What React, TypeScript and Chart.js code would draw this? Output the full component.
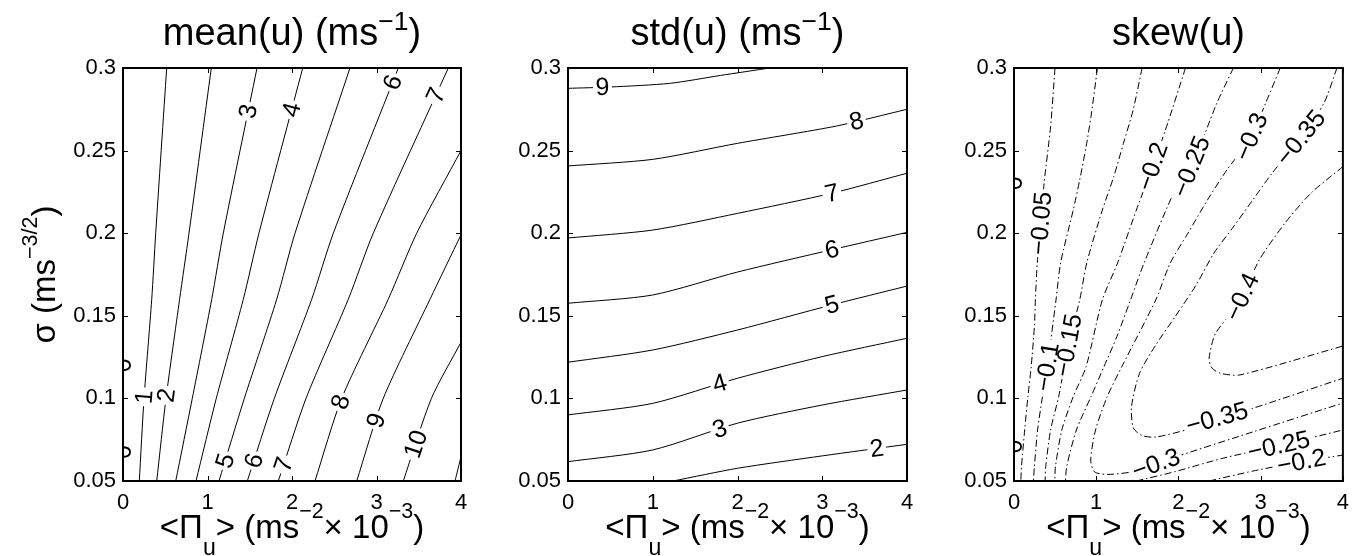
import React, { useEffect, useRef } from 'react';
import { Chart, registerables } from 'chart.js';

Chart.register(...registerables);

const W = 1358;
const H = 556;
const FONT = "'Liberation Sans', Arial, Helvetica, sans-serif";
const TICK_SIZE = 22;
const LABEL_SIZE = 25;

type Pt = [number, number];
type Lab = [number, number, number];

// ---------- axes ----------
const xTicks = [0, 1, 2, 3, 4];
const yTicks = [0.05, 0.1, 0.15, 0.2, 0.25, 0.3];

// ---------- mean(u) contours: [x, y] points ----------
const mean0: Pt[] = [[0, 0.05], [0, 0.3]];
const mean1: Pt[] = [[0.193, 0.05], [0.249, 0.1], [0.34, 0.16], [0.387, 0.2], [0.517, 0.3]];
const mean2: Pt[] = [[0.399, 0.05], [0.509, 0.1], [0.67, 0.16], [0.781, 0.2], [1.045, 0.3]];
const mean3: Pt[] = [[0.624, 0.05], [0.82, 0.1], [1.05, 0.16], [1.187, 0.2], [1.586, 0.3]];
const mean4: Pt[] = [[0.864, 0.05], [1.104, 0.1], [1.424, 0.16], [1.609, 0.2], [2.127, 0.3]];
const mean5: Pt[] = [[1.136, 0.05], [1.436, 0.1], [1.819, 0.16], [2.036, 0.2], [2.686, 0.3]];
const mean6: Pt[] = [[1.471, 0.05], [1.791, 0.1], [2.233, 0.16], [2.489, 0.2], [3.258, 0.3]];
const mean7: Pt[] = [[1.838, 0.05], [2.166, 0.1], [2.666, 0.16], [2.962, 0.2], [3.85, 0.3]];
const mean8: Pt[] = [[2.272, 0.05], [2.588, 0.1], [3.139, 0.16], [3.476, 0.2], [4, 0.25]];
const mean9: Pt[] = [[2.766, 0.05], [3.08, 0.1], [3.633, 0.16], [4, 0.199]];
const mean10: Pt[] = [[3.317, 0.05], [3.65, 0.1], [4, 0.134]];
const mean11: Pt[] = [[3.929, 0.05], [4, 0.0647]];
const meanLevels = [0, 1, 2, 3, 4, 5, 6, 7, 8, 9, 10, 11];
const meanLines = [mean0, mean1, mean2, mean3, mean4, mean5, mean6, mean7, mean8, mean9, mean10, mean11];
// [level, x, y]
const meanLabels: Lab[] = [
  [0, 0, 0.1201], [0, 0, 0.0675], [1, 0.281, 0.1008], [2, 0.537, 0.1017],
  [3, 1.503, 0.2735], [4, 2.015, 0.2745], [5, 1.246, 0.0617], [6, 1.562, 0.0621],
  [6, 3.219, 0.2908], [7, 3.692, 0.2837], [7, 1.858, 0.0607], [8, 2.588, 0.0977],
  [9, 3.0, 0.0866], [10, 3.456, 0.0725],
];

// ---------- std(u) contours ----------
const std2: Pt[] = [[1.24, 0.05], [2, 0.0577], [3, 0.0652], [4, 0.0722]];
const std3: Pt[] = [[0, 0.0617], [1, 0.0688], [2, 0.085], [3, 0.096], [4, 0.1051]];
const std4: Pt[] = [[0, 0.09], [1, 0.097], [2, 0.1122], [3, 0.1253], [4, 0.1364]];
const std5: Pt[] = [[0, 0.1219], [1, 0.1293], [2, 0.1414], [3.113, 0.1566], [4, 0.168]];
const std6: Pt[] = [[0, 0.1576], [1, 0.1626], [2, 0.1765], [3.113, 0.19], [4, 0.2005]];
const std7: Pt[] = [[0, 0.1971], [1, 0.2019], [2, 0.212], [3.113, 0.2242], [4, 0.2363]];
const std8: Pt[] = [[0, 0.2407], [1, 0.2447], [2, 0.2544], [3.17, 0.2649], [4, 0.275]];
const std9: Pt[] = [[0, 0.2877], [0.5, 0.2885], [1.2, 0.2907], [1.8, 0.2955], [2.38, 0.3]];
const stdLevels = [2, 3, 4, 5, 6, 7, 8, 9];
const stdLines = [std2, std3, std4, std5, std6, std7, std8, std9];
const stdLabels: Lab[] = [
  [9, 0.407, 0.2877], [8, 3.409, 0.2665], [7, 3.113, 0.2242], [6, 3.113, 0.19],
  [5, 3.113, 0.1566], [4, 1.793, 0.1082], [3, 1.793, 0.081], [2, 3.645, 0.0689],
];

// ---------- skew(u) contours ----------
const skew0: Pt[] = [[0, 0.05], [0, 0.3]];
const skewA: Pt[] = [[0.499, 0.3], [0.445, 0.2645], [0.366, 0.2302], [0.327, 0.206], [0.283, 0.182], [0.26, 0.1596], [0.248, 0.1434], [0.209, 0.1192], [0.169, 0.101], [0.13, 0.0809], [0.091, 0.0587], [0.083, 0.05]];
const skewB: Pt[] = [[1.015, 0.3], [0.936, 0.2705], [0.877, 0.2524], [0.799, 0.2322], [0.72, 0.214], [0.567, 0.182], [0.511, 0.1596], [0.405, 0.1192], [0.346, 0.101], [0.287, 0.0809], [0.248, 0.0587], [0.236, 0.05]];
const skewC: Pt[] = [[1.558, 0.3], [1.449, 0.2746], [1.331, 0.2544], [1.213, 0.2342], [1.074, 0.214], [0.885, 0.182], [0.799, 0.1596], [0.661, 0.1323], [0.543, 0.101], [0.445, 0.0809], [0.386, 0.0587], [0.378, 0.05]];
const skewD: Pt[] = [[2.086, 0.3], [1.842, 0.2625], [1.685, 0.2403], [1.488, 0.214], [1.26, 0.182], [1.074, 0.1596], [0.877, 0.1192], [0.72, 0.101], [0.582, 0.0809], [0.504, 0.0587], [0.496, 0.05]];
const skewD2: Pt[] = [[2.373, 0.05], [2.904, 0.056], [3.495, 0.0617], [4, 0.0657]];
const skewE: Pt[] = [[2.668, 0.3], [2.468, 0.2788], [2.157, 0.2403], [1.96, 0.2262], [1.582, 0.182], [1.417, 0.1596], [1.251, 0.1374], [1.094, 0.1192], [0.936, 0.101], [0.759, 0.0809], [0.641, 0.0587], [0.626, 0.05]];
const skewE2: Pt[] = [[1.488, 0.05], [1.96, 0.0557], [2.55, 0.0639], [3.259, 0.0718], [4, 0.0809]];
const skewF: Pt[] = [[3.238, 0.3], [3.061, 0.2788], [2.884, 0.2582], [2.589, 0.2383], [2.353, 0.2201], [2.117, 0.2001], [1.901, 0.182], [1.724, 0.1596], [1.311, 0.1192], [1.133, 0.101], [0.992, 0.0809], [0.933, 0.0627], [0.98, 0.0555], [1.133, 0.054], [1.429, 0.0555], [1.724, 0.0603], [1.96, 0.0645], [2.904, 0.0797], [4, 0.0972]];
const skewG: Pt[] = [[3.928, 0.3], [3.77, 0.2788], [3.495, 0.2582], [3.14, 0.2364], [2.904, 0.2201], [2.668, 0.2038], [2.432, 0.188], [2.216, 0.1687], [1.96, 0.1495], [1.724, 0.1323], [1.527, 0.1152], [1.429, 0.095], [1.452, 0.0821], [1.558, 0.0775], [1.724, 0.0766], [2.117, 0.0813], [2.468, 0.088], [2.904, 0.094], [4, 0.1122]];
const skewH: Pt[] = [[4, 0.2403], [3.613, 0.2243], [3.297, 0.2062], [2.983, 0.1838], [2.747, 0.1585], [2.452, 0.1394], [2.373, 0.1243], [2.408, 0.1184], [2.511, 0.1152], [2.747, 0.1142], [4, 0.1317]];
const skewLevels = [0, -0.05, -0.1, -0.15, -0.2, -0.2, -0.25, -0.25, -0.3, -0.35, -0.4];
const skewLines = [skew0, skewA, skewB, skewC, skewD, skewD2, skewE, skewE2, skewF, skewG, skewH];
const skewLabels: Lab[] = [
  [0, 0, 0.2302], [0, 0, 0.0709], [-0.05, 0.327, 0.206], [-0.1, 0.386, 0.1192],
  [-0.15, 0.641, 0.1323], [-0.2, 1.685, 0.2403], [-0.25, 2.157, 0.2403], [-0.3, 2.884, 0.2584],
  [-0.35, 3.495, 0.2574], [-0.4, 2.747, 0.162], [-0.35, 2.471, 0.088], [-0.3, 1.724, 0.0607],
  [-0.25, 3.223, 0.0709], [-0.2, 3.495, 0.0617],
];

// ---------- text ----------
type Part = { t: string; s?: number; dy?: number };
const meanTitle: Part[] = [{ t: 'mean(u) (ms' }, { t: '\u22121', s: 0.7, dy: 0.4 }, { t: ')' }];
const stdTitle: Part[] = [{ t: 'std(u) (ms' }, { t: '\u22121', s: 0.7, dy: 0.4 }, { t: ')' }];
const skewTitle: Part[] = [{ t: 'skew(u)' }];
const xLabel: Part[] = [
  { t: '<\u03A0' }, { t: 'u', s: 0.7, dy: -0.5 }, { t: '> (ms' }, { t: '\u22122', s: 0.65, dy: 0.62 },
  { t: '\u00D7 10' }, { t: '\u22123', s: 0.65, dy: 0.62 }, { t: ')' },
];
const yLabel: Part[] = [{ t: '\u03C3 (ms' }, { t: '\u22123/2', s: 0.65, dy: 0.55 }, { t: ')' }];

const panels = [
  { key: 'mean', left: 123, right: 461, levels: meanLevels, lines: meanLines, labels: meanLabels, dash: [] as number[], title: meanTitle, ylab: true },
  { key: 'std', left: 568, right: 907, levels: stdLevels, lines: stdLines, labels: stdLabels, dash: [] as number[], title: stdTitle, ylab: false },
  { key: 'skew', left: 1014, right: 1353, levels: skewLevels, lines: skewLines, labels: skewLabels, dash: [7, 3, 1.5, 3], title: skewTitle, ylab: false },
];
const TOP = 68;
const BOTTOM = 481;
const YW = 60;
const XH = 40;

function fmtLevel(v: number): string {
  if (v < 0) return '\u2212' + String(Math.abs(v));
  return String(v);
}

function drawRich(ctx: CanvasRenderingContext2D, parts: Part[], x: number, y: number, size: number) {
  const widths = parts.map((p) => {
    ctx.font = `${size * (p.s ?? 1)}px ${FONT}`;
    return ctx.measureText(p.t).width;
  });
  const total = widths.reduce((a, b) => a + b, 0);
  let cx = x - total / 2;
  ctx.textAlign = 'left';
  ctx.textBaseline = 'alphabetic';
  parts.forEach((p, i) => {
    ctx.font = `${size * (p.s ?? 1)}px ${FONT}`;
    ctx.fillText(p.t, cx, y - (p.dy ?? 0) * size);
    cx += widths[i];
  });
}

function placeLabels(chart: any, labels: Lab[]) {
  const xs = chart.scales.x;
  const ys = chart.scales.y;
  const ctx: CanvasRenderingContext2D = chart.ctx;
  ctx.font = `${LABEL_SIZE}px ${FONT}`;
  const out: any[] = [];
  labels.forEach(([lvl, lx, ly]) => {
    const px = xs.getPixelForValue(lx);
    const py = ys.getPixelForValue(ly);
    let best: any = null;
    chart.data.datasets.forEach((ds: any, di: number) => {
      if (ds.level !== lvl) return;
      const pts = ds.data.map((p: any) => [xs.getPixelForValue(p.x), ys.getPixelForValue(p.y)]);
      for (let i = 0; i < pts.length - 1; i++) {
        const [ax, ay] = pts[i];
        const [bx, by] = pts[i + 1];
        const dx = bx - ax;
        const dy = by - ay;
        const L2 = dx * dx + dy * dy || 1;
        let t = ((px - ax) * dx + (py - ay) * dy) / L2;
        t = Math.max(0, Math.min(1, t));
        const qx = ax + t * dx;
        const qy = ay + t * dy;
        const d = Math.hypot(px - qx, py - qy);
        if (!best || d < best.d) best = { d, di, qx, qy, ang: Math.atan2(dy, dx) };
      }
    });
    if (!best) return;
    let a = best.ang;
    if (a >= Math.PI / 2 - 1e-6) a -= Math.PI;
    if (a < -Math.PI / 2 - 1e-6) a += Math.PI;
    const text = fmtLevel(lvl);
    const w = ctx.measureText(text).width + 5;
    out.push({ di: best.di, x: best.qx, y: best.qy, a, text, w, h: 19 });
  });
  return out;
}

function makePlugin(panel: any) {
  return {
    id: 'contourDeco_' + panel.key,
    beforeDatasetsDraw(chart: any) {
      chart.$labs = placeLabels(chart, panel.labels);
    },
    beforeDatasetDraw(chart: any, args: any) {
      const list = (chart.$labs || []).filter((l: any) => l.di === args.index);
      const ctx: CanvasRenderingContext2D = chart.ctx;
      ctx.save();
      if (list.length) {
        ctx.beginPath();
        ctx.rect(0, 0, W, H);
        list.forEach((l: any) => {
          ctx.save();
          ctx.translate(l.x, l.y);
          ctx.rotate(l.a);
          ctx.rect(-l.w / 2, -l.h / 2, l.w, l.h);
          ctx.restore();
        });
        ctx.clip('evenodd');
      }
    },
    afterDatasetDraw(chart: any) {
      chart.ctx.restore();
    },
    afterDatasetsDraw(chart: any) {
      const ctx: CanvasRenderingContext2D = chart.ctx;
      const ca = chart.chartArea;
      ctx.save();
      ctx.beginPath();
      ctx.rect(ca.left, ca.top, ca.right - ca.left, ca.bottom - ca.top);
      ctx.clip();
      ctx.font = `${LABEL_SIZE}px ${FONT}`;
      ctx.fillStyle = '#000';
      ctx.textAlign = 'center';
      ctx.textBaseline = 'middle';
      (chart.$labs || []).forEach((l: any) => {
        ctx.save();
        ctx.translate(l.x, l.y);
        ctx.rotate(l.a);
        ctx.fillText(l.text, 0, 1);
        ctx.restore();
      });
      ctx.restore();
    },
    afterDraw(chart: any) {
      const ctx: CanvasRenderingContext2D = chart.ctx;
      const { left, right, top, bottom } = chart.chartArea;
      const xs = chart.scales.x;
      const ys = chart.scales.y;
      ctx.save();
      ctx.strokeStyle = '#000';
      ctx.lineWidth = 1;
      ctx.beginPath();
      xTicks.forEach((v) => {
        const x = Math.round(xs.getPixelForValue(v)) + 0.5;
        ctx.moveTo(x, bottom);
        ctx.lineTo(x, bottom - 5);
        ctx.moveTo(x, top);
        ctx.lineTo(x, top + 5);
      });
      yTicks.forEach((v) => {
        const y = Math.round(ys.getPixelForValue(v)) + 0.5;
        ctx.moveTo(left, y);
        ctx.lineTo(left + 5, y);
        ctx.moveTo(right, y);
        ctx.lineTo(right - 5, y);
      });
      ctx.stroke();
      ctx.lineWidth = 2;
      ctx.strokeRect(left, top, right - left, bottom - top);
      ctx.fillStyle = '#000';
      const cx = (left + right) / 2;
      drawRich(ctx, panel.title, cx, 45, 38);
      drawRich(ctx, xLabel, cx, 538, 33);
      if (panel.ylab) {
        ctx.save();
        ctx.translate(55, (top + bottom) / 2);
        ctx.rotate(-Math.PI / 2);
        drawRich(ctx, yLabel, 0, 0, 33);
        ctx.restore();
      }
      ctx.restore();
    },
  };
}

function makeChart(canvas: HTMLCanvasElement, panel: any) {
  const datasets = panel.lines.map((pts: Pt[], i: number) => ({
    label: fmtLevel(panel.levels[i]),
    level: panel.levels[i],
    data: pts.map(([x, y]) => ({ x, y })),
    borderColor: '#000',
    borderWidth: 1,
    borderDash: panel.dash,
    pointRadius: 0,
    tension: 0.25,
    fill: false,
  }));
  const tickFont = { family: FONT, size: TICK_SIZE };
  return new Chart(canvas, {
    type: 'line',
    data: { datasets },
    options: {
      responsive: false,
      animation: false,
      devicePixelRatio: 1,
      events: [],
      layout: { padding: { left: panel.left - YW, right: W - panel.right, top: TOP, bottom: H - BOTTOM - XH } },
      plugins: { legend: { display: false }, tooltip: { enabled: false }, title: { display: false } },
      scales: {
        x: {
          type: 'linear',
          min: 0,
          max: 4,
          afterBuildTicks: (s: any) => { s.ticks = xTicks.map((v) => ({ value: v })); },
          afterFit: (s: any) => { s.height = XH; },
          grid: { display: false, drawTicks: false },
          border: { display: false },
          ticks: { font: tickFont, color: '#000', padding: 9, maxRotation: 0, autoSkip: false, callback: (v: any) => String(v) },
        },
        y: {
          type: 'linear',
          min: 0.05,
          max: 0.3,
          afterBuildTicks: (s: any) => { s.ticks = yTicks.map((v) => ({ value: v })); },
          afterFit: (s: any) => { s.width = YW; },
          grid: { display: false, drawTicks: false },
          border: { display: false },
          ticks: { font: tickFont, color: '#000', padding: 7, autoSkip: false, callback: (v: any) => String(v) },
        },
      },
    } as any,
    plugins: [makePlugin(panel)],
  });
}

export default function App() {
  const r0 = useRef<HTMLCanvasElement>(null);
  const r1 = useRef<HTMLCanvasElement>(null);
  const r2 = useRef<HTMLCanvasElement>(null);
  useEffect(() => {
    const refs = [r0, r1, r2];
    const charts = panels.map((p, i) => makeChart(refs[i].current as HTMLCanvasElement, p));
    return () => charts.forEach((c) => c.destroy());
  }, []);
  const refs = [r0, r1, r2];
  return (
    <div style={{ position: 'absolute', left: 0, top: 0, width: W, height: H, background: '#fff', overflow: 'hidden' }}>
      {panels.map((p, i) => (
        <canvas
          key={p.key}
          ref={refs[i]}
          width={W}
          height={H}
          style={{ position: 'absolute', left: 0, top: 0, width: W, height: H }}
        />
      ))}
    </div>
  );
}
